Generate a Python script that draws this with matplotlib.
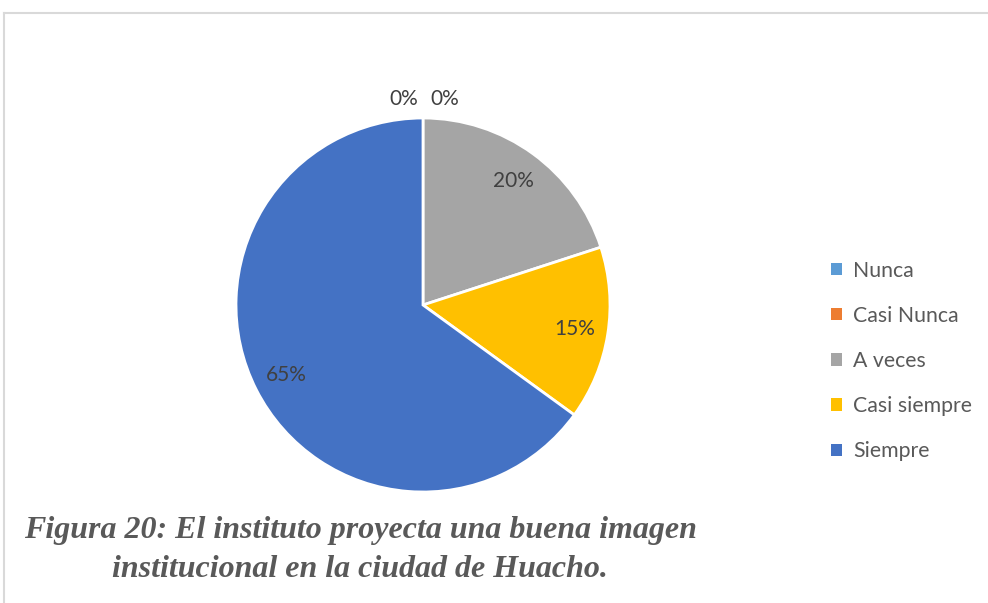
import numpy as np
import matplotlib
matplotlib.use("Agg")
from matplotlib import pyplot as plt
from matplotlib.lines import Line2D
from matplotlib.patches import Patch

categories = ["Nunca", "Casi Nunca", "A veces", "Casi siempre", "Siempre"]
values = [0, 0, 20, 15, 65]
colors = ["#5B9BD5", "#ED7D31", "#A5A5A5", "#FFC000", "#4472C4"]
caption = ("Figura 20: El instituto proyecta una buena imagen\n"
           "institucional en la ciudad de Huacho.")

W, H = 988, 603
fig = plt.figure(figsize=(W / 100, H / 100), dpi=100)

# chart area border (top and left visible)
border = "#D9D9D9"
fig.add_artist(Line2D([4 / W, 1.0], [1 - 13 / H, 1 - 13 / H], color=border, lw=1.5))
fig.add_artist(Line2D([4 / W, 4 / W], [0.0, 1 - 13 / H], color=border, lw=1.5))

# pie axes, center (423, 305) px, radius 187 px
cx, cy, R = 423, 305, 187
half = R * 1.3
ax = fig.add_axes([(cx - half) / W, 1 - (cy + half) / H, 2 * half / W, 2 * half / H])
wedges, _ = ax.pie(values, colors=colors, startangle=90, counterclock=False,
                   radius=1.0, wedgeprops=dict(edgecolor="white", linewidth=2))
ax.set_xlim(-1.3, 1.3)
ax.set_ylim(-1.3, 1.3)
ax.axis("off")

label_font = dict(family=["Lato", "DejaVu Sans"], fontsize=15, color="#404040")
zero_offset = [-0.105, 0.115]
zi = 0
for w, v in zip(wedges, values):
    mid = np.deg2rad((w.theta1 + w.theta2) / 2)
    if v == 0:
        ax.text(zero_offset[zi], 1.1, "%d%%" % v, ha="center", va="center", **label_font)
        zi += 1
    else:
        ax.text(0.82 * np.cos(mid), 0.82 * np.sin(mid), "%d%%" % v,
                ha="center", va="center", **label_font)

handles = [Patch(facecolor=c, edgecolor="none") for c in colors]
fig.legend(handles, categories, loc="center left", bbox_to_anchor=(812 / W, 1 - 361 / H),
           frameon=False, prop=dict(family=["Lato", "DejaVu Sans"], size=15.3),
           labelcolor="#595959", handlelength=0.5, handleheight=0.5,
           handletextpad=0.55, labelspacing=1.18)

fig.text(360 / W, 1 - 550 / H, caption, ha="center", va="center",
         family=["Liberation Serif"], style="italic", weight="bold",
         fontsize=23, color="#595959", linespacing=1.45)

fig.savefig("out.png", dpi=100)
